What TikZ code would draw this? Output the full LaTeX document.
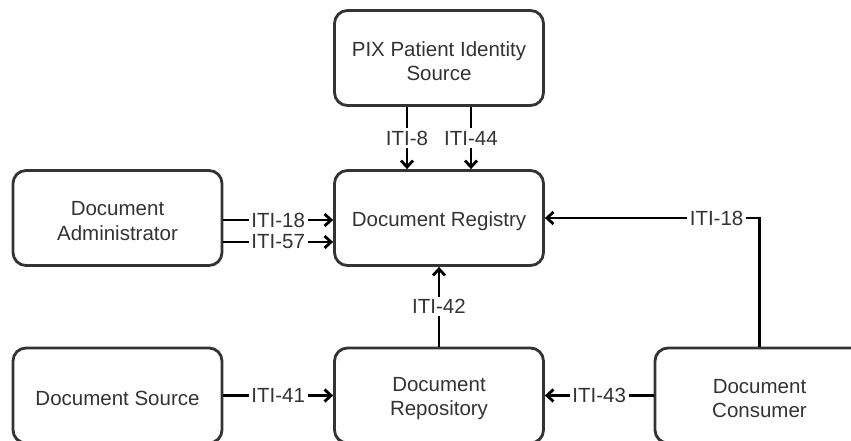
\documentclass[tikz,border=0pt]{standalone}
\usepackage{fontspec}
\setmainfont{Liberation Sans}
\usetikzlibrary{arrows.meta}
\begin{document}
\begin{tikzpicture}[x=1pt,y=-1pt,
  txt/.style={align=center, font=\fontsize{20.5}{24.5}\selectfont, text=black!80, yshift=-3pt, inner sep=0pt},
  box/.style={draw=black!80, line width=2.8pt, rounded corners=13pt, minimum width=209pt, minimum height=95pt, inner sep=0pt, label={[txt]center:#1}},
  conn/.style={line width=2.8pt, draw=black, -{Straight Barb[length=6.5pt,width=12pt,line width=2.8pt]}},
  lbl/.style={fill=white, font=\fontsize{20.5}{24}\selectfont, inner sep=2.5pt, text=black!80}]
\useasboundingbox (0,0) rectangle (851,441);
\clip (0,0) rectangle (851,441);
\node[box={PIX Patient Identity\\Source}] (pix) at (439,58) {};
\node[box={Document\\Administrator}] (adm) at (117.5,218) {};
\node[box={Document Registry}] (reg) at (439,218) {};
\node[box={Document Source}] (src) at (117.5,395.5) {};
\node[box={Document\\Repository}] (rep) at (439,395.5) {};
\node[box={Document\\Consumer}] (con) at (759.5,395.5) {};
\draw[conn] ([xshift=-32pt]pix.south) -- node[lbl]{ITI-8} ([xshift=-32pt]reg.north);
\draw[conn] ([xshift=32pt]pix.south) -- node[lbl]{ITI-44} ([xshift=32pt]reg.north);
\draw[conn] ([yshift=-2pt]adm.east) -- node[lbl]{ITI-18} ([yshift=-2pt]reg.west);
\draw[conn] ([yshift=-24pt]adm.east) -- node[lbl]{ITI-57} ([yshift=-24pt]reg.west);
\draw[conn] (con.north) |- node[lbl,pos=0.6]{ITI-18} (reg.east);
\draw[conn] (src) -- node[lbl]{ITI-41} (rep);
\draw[conn] (con) -- node[lbl]{ITI-43} (rep);
\draw[conn] (rep) -- node[lbl]{ITI-42} (reg);
\end{tikzpicture}
\end{document}
